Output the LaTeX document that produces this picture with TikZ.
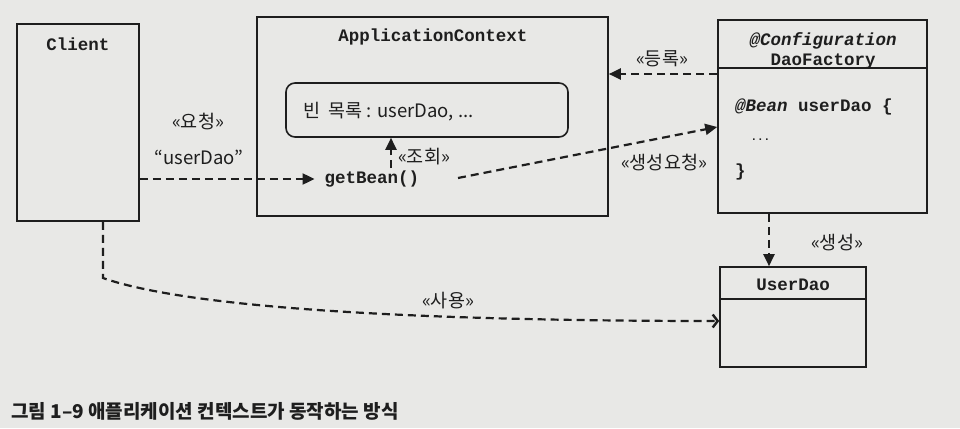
\documentclass[tikz,border=0pt]{standalone}
\usepackage{fontspec}
\setmonofont{Liberation Mono}
\newfontfamily\kr{Noto Sans CJK KR}
\usetikzlibrary{arrows.meta,calc}
\definecolor{bg}{HTML}{E8E8E6}
\definecolor{ink}{HTML}{1E1E1E}
\begin{document}
\begin{tikzpicture}[x=1pt,y=-1pt,
  box/.style={draw=ink,line width=1.6pt,inner sep=0pt},
  divline/.style={draw=ink,line width=1.6pt},
  mono/.style={font=\fontsize{17.5}{20}\selectfont\ttfamily\bfseries,text=ink,inner sep=4pt},
  monoi/.style={font=\fontsize{17.5}{20}\selectfont\ttfamily\bfseries\itshape,text=ink,inner sep=4pt},
  lbl/.style={font=\fontsize{18.5}{21}\selectfont\kr,text=ink,inner sep=1pt},
  dep/.style={draw=ink,line width=2.2pt,dash pattern=on 8pt off 5pt},
  tri/.style={-{Triangle[length=12pt,width=11pt]}},
  barb/.style={-{Straight Barb[length=5pt,width=13pt,line width=2.4pt]}}]
\path[fill=bg] (0,0) rectangle (960,428);
\useasboundingbox (0,0) rectangle (960,428);

% Client
\node[box,minimum width=122pt,minimum height=197pt] (client) at (78,122.5) {};
\node[mono] (clientt) at (78,44) {Client};

% ApplicationContext
\node[box,minimum width=351pt,minimum height=199pt] (ctx) at (432.5,116.5) {};
\node[mono] (ctxt) at (433,37) {ApplicationContext};
\node[box,rounded corners=9pt,minimum width=282pt,minimum height=54pt] (beans) at (427,110) {};
\node[lbl,font=\fontsize{18.5}{21}\selectfont\kr,anchor=west] (beanst) at (302,112) {빈\ \ 목록\ : userDao, ...};
\node[mono] (getbean) at (372,179) {getBean()};

% DaoFactory
\node[box,minimum width=209pt,minimum height=193pt] (fac) at (822.5,116.5) {};
\draw[divline] (fac.west |- 0,68) -- (fac.east |- 0,68);
\node[monoi] (conf) at (823,41) {@Configuration};
\node[mono] (dfac) at (823,61) {DaoFactory};
\node[mono,anchor=west] (beanm) at (731,107) {\itshape @Bean\upshape{} userDao \{};
\node[font=\fontsize{11}{12}\selectfont\ttfamily\bfseries,text=ink,anchor=west] (dots) at (747,140) {...};
\node[mono,anchor=west] (rbrace) at (731,172) {\}};

% UserDao
\node[box,minimum width=146pt,minimum height=100pt] (ud) at (793,317) {};
\draw[divline] (ud.west |- 0,299) -- (ud.east |- 0,299);
\node[mono] (udt) at (793,285) {UserDao};

% connectors
\draw[dep,tri,shorten >=6pt] (client.east |- getbean.west) -- (getbean.west);
\node[lbl] (l1) at (198,122) {«요청»};
\node[lbl] (l2) at (199,157) {“userDao”};

\coordinate (q) at (391,168);
\draw[dep,tri] (q) -- (q |- beans.south);
\node[lbl] (l3) at (424,157) {«조회»};

\coordinate (gs) at (458,178);
\draw[dep,tri] (gs) -- ([yshift=-10.5pt]fac.west);
\node[lbl] (l4) at (664,163) {«생성요청»};

\draw[dep,tri] ([yshift=42.5pt]fac.west) -- (ctx.east |- 0,74);
\node[lbl] (l5) at (662,59) {«등록»};

\draw[dep,tri] ([xshift=-53.5pt]fac.south) -- ([xshift=-24pt]ud.north);
\node[lbl] (l6) at (837,243) {«생성»};

\draw[dep,barb] ([xshift=25pt]client.south) -- (103,278) .. controls (180,305) and (380,321) .. ([yshift=-4pt]ud.west);
\node[lbl] (l7) at (448,301) {«사용»};

% caption
\node[font=\fontsize{19}{21}\selectfont\kr\bfseries,text=ink,anchor=west,inner sep=0pt] (cap) at (11,411) {그림 1–9 애플리케이션 컨텍스트가 동작하는 방식};
\end{tikzpicture}
\end{document}
